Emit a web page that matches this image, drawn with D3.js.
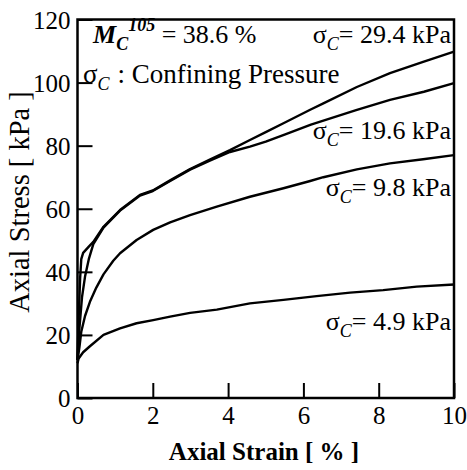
<!DOCTYPE html>
<html><head><meta charset="utf-8">
<script src="https://cdn.jsdelivr.net/npm/d3@7"></script>
<style>
html,body{margin:0;padding:0;background:#fff;}
text{font-family:"Liberation Serif","Times New Roman",serif;fill:#000;}
</style></head>
<body><svg id="c" width="467" height="470"></svg>
<script>
const xTicks = [0, 2, 4, 6, 8, 10];
const yTicks = [0, 20, 40, 60, 80, 100, 120];

const strain294 = [0, 0.03, 0.07, 0.1, 0.15, 0.3, 0.42, 0.69, 1.13, 1.66, 2.0, 2.46, 2.99, 3.5, 4.05, 4.58, 5.0, 5.47, 6.18, 6.53, 7.42, 8.3, 9.18, 10];
const stress294 = [12, 25, 38, 44, 46, 48, 49.5, 54.3, 59.6, 64.4, 65.8, 69, 72.6, 75.5, 78.6, 81.8, 84.3, 87.1, 91.4, 93.4, 98.6, 103, 106.6, 109.8];

const strain196 = [0, 0.05, 0.12, 0.2, 0.3, 0.42, 0.69, 1.13, 1.66, 2.0, 2.46, 2.99, 3.5, 4.05, 4.58, 5.0, 5.5, 6.2, 7.4, 8.3, 9.2, 10];
const stress196 = [12, 22, 32, 38.5, 44, 48.8, 54, 59.4, 64.2, 65.6, 68.8, 72.4, 75.2, 78.0, 79.7, 81.3, 83.5, 86.7, 91.3, 94.5, 97.1, 99.8];

const strain98 = [0, 0.05, 0.1, 0.2, 0.33, 0.5, 0.69, 0.95, 1.13, 1.57, 2.01, 2.46, 2.99, 3.7, 4.58, 5.47, 6.18, 6.53, 7.42, 8.3, 9.18, 10];
const stress98 = [12, 16, 21, 26, 30.5, 35, 39.2, 43.5, 45.9, 50.1, 53.3, 55.7, 58, 60.7, 63.8, 66.5, 68.8, 70, 72.5, 74.4, 75.7, 77];

const strain49 = [0, 0.03, 0.15, 0.33, 0.69, 1.13, 1.57, 2.01, 2.46, 2.99, 3.7, 4.58, 5.47, 6.35, 7.24, 8.12, 9.01, 10];
const stress49 = [11, 12.5, 14.5, 16.4, 20, 22.1, 23.7, 24.7, 25.8, 27, 28, 30, 31.1, 32.3, 33.4, 34.2, 35.3, 36];

const seriesLabels = ["29.4", "19.6", "9.8", "4.9"];

const svg = d3.select("#c");
const L = 77.5, R = 454, T = 19.5, B = 398;
const x = d3.scaleLinear().domain([0, 10]).range([L, R]);
const y = d3.scaleLinear().domain([0, 120]).range([B, T]);

// curves
const line = d3.line().x(d => x(d[0])).y(d => y(d[1]));
const series = [[strain294, stress294], [strain196, stress196], [strain98, stress98], [strain49, stress49]];
series.forEach(([xs, ys]) => {
  svg.append("path").datum(xs.map((v, i) => [v, ys[i]]))
    .attr("d", line).attr("fill", "none").attr("stroke", "#000")
    .attr("stroke-width", 2.4).attr("stroke-linejoin", "round");
});

// frame
svg.append("rect").attr("x", L).attr("y", T).attr("width", R - L).attr("height", B - T)
  .attr("fill", "none").attr("stroke", "#000").attr("stroke-width", 2.5);

// axes (ticks inward)
const gx = svg.append("g").attr("transform", `translate(0,${B})`)
  .call(d3.axisBottom(x).tickValues(xTicks).tickSizeInner(-15).tickSizeOuter(0).tickPadding(25).tickFormat(d3.format("d")));
const gy = svg.append("g").attr("transform", `translate(${L},0)`)
  .call(d3.axisLeft(y).tickValues(yTicks).tickSizeInner(-15).tickSizeOuter(0).tickPadding(22).tickFormat(d3.format("d")));
[gx, gy].forEach(g => {
  g.attr("font-family", null);
  g.select(".domain").remove();
  g.selectAll(".tick line").attr("stroke", "#000").attr("stroke-width", 2);
  g.selectAll(".tick text").style("font-family", '"Liberation Serif",serif').style("font-size", "25px").attr("fill", "#000");
});
gx.selectAll(".tick text").attr("dy", "0.71em").attr("y", 8);
gy.selectAll(".tick text").attr("x", -7).attr("dy", "0.35em");

// axis titles
svg.append("text").attr("x", 264).attr("y", 460).attr("text-anchor", "middle")
  .style("font-size", "25px").style("font-weight", "bold").text("Axial Strain [ % ]");
svg.append("text").attr("transform", "translate(29,202) rotate(-90)").attr("text-anchor", "middle")
  .style("font-size", "28.5px").text("Axial Stress [ kPa ]");

// annotations
const fs = 26;
const t1 = svg.append("text").attr("x", 93).attr("y", 43).style("font-size", fs + "px");
t1.append("tspan").style("font-style", "italic").style("font-weight", "bold").text("M");
t1.append("tspan").attr("dy", 7).style("font-style", "italic").style("font-weight", "bold").style("font-size", "18px").text("C");
t1.append("tspan").attr("dy", -19).style("font-style", "italic").style("font-weight", "bold").style("font-size", "18px").text("105");
t1.append("tspan").attr("dy", 12).text(" = 38.6 %");

const t2 = svg.append("text").attr("x", 83).attr("y", 83).style("font-size", "27px");
t2.append("tspan").text("σ");
t2.append("tspan").attr("dy", 7).style("font-style", "italic").style("font-size", "18px").text("C");
t2.append("tspan").attr("dy", -7).attr("dx", 8).text(": Confining Pressure");

const labelY = [43, 139, 196, 330];
seriesLabels.forEach((s, i) => {
  const t = svg.append("text").attr("x", 451).attr("y", labelY[i]).attr("text-anchor", "end").style("font-size", fs + "px");
  t.append("tspan").text("σ");
  t.append("tspan").attr("dy", 7).style("font-style", "italic").style("font-size", "18px").text("C");
  t.append("tspan").attr("dy", -7).text("= " + s + " kPa");
});
</script></body></html>
